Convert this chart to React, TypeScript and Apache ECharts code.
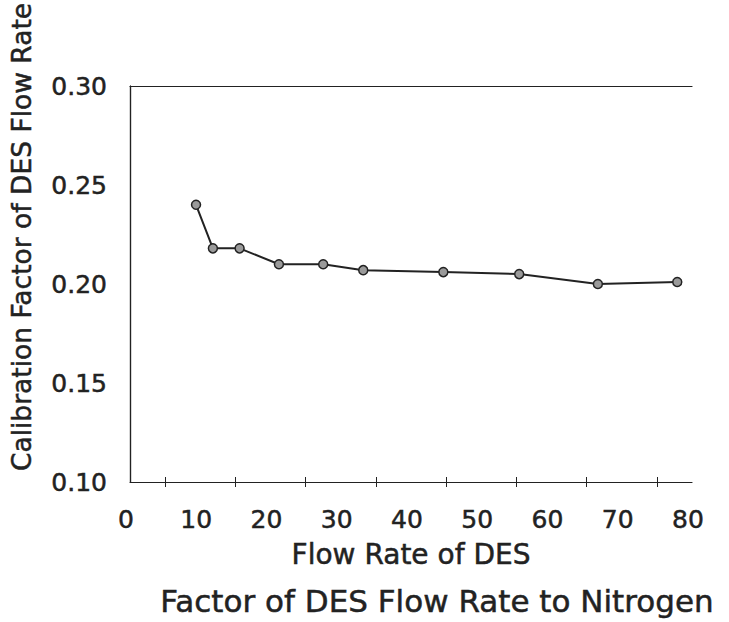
import React, { useEffect, useRef } from "react";
import * as echarts from "echarts";

// Data
const flowRates = [9.4, 11.8, 15.6, 21.2, 27.5, 33.2, 44.6, 55.4, 66.6, 77.9];
const calibrationFactors = [0.24, 0.218, 0.218, 0.21, 0.21, 0.207, 0.206, 0.205, 0.2, 0.201];
const yTitle = "Calibration Factor of DES Flow Rate";
const xTitle = "Flow Rate of DES";
const bottomCaption = "Factor of DES Flow Rate to Nitrogen";

const FONT = "DejaVu Sans";
const INK = "#222";

export default function App() {
  const ref = useRef<HTMLDivElement>(null);

  useEffect(() => {
    document.body.style.margin = "0";
    if (!ref.current) return;
    const chart = echarts.init(ref.current, undefined, { renderer: "svg" });
    const points = flowRates.map((x, i) => [x, calibrationFactors[i]]);
    const hidden = { show: false };
    const heavy = { textBorderColor: INK, textBorderWidth: 0.5 };
    const gridRect = { left: 130, top: 86, width: 562, height: 396, outerBoundsMode: "none" };
    chart.setOption({
      animation: false,
      backgroundColor: "#fff",
      grid: [gridRect, gridRect],
      xAxis: [
        {
          type: "value",
          gridIndex: 0,
          position: "bottom",
          min: 0,
          max: 80,
          interval: 10,
          axisLine: { show: true, lineStyle: { color: INK, width: 1.2 } },
          axisTick: { show: false },
          minorTick: { show: true, splitNumber: 2, length: 5, lineStyle: { color: INK, width: 1 } },
          splitLine: hidden,
          minorSplitLine: hidden,
          axisLabel: {
            fontFamily: FONT,
            fontSize: 25,
            color: INK,
            margin: 25,
            padding: [0, 8, 0, 0],
            ...heavy,
          },
          name: xTitle,
          nameLocation: "middle",
          nameGap: 58,
          nameTextStyle: { fontFamily: FONT, fontSize: 28, color: INK, ...heavy },
        },
        {
          type: "value",
          gridIndex: 0,
          position: "top",
          min: 0,
          max: 80,
          interval: 10,
          axisLine: { show: true, lineStyle: { color: INK, width: 1.2 } },
          axisTick: hidden,
          splitLine: hidden,
          axisLabel: hidden,
        },
        {
          type: "value",
          gridIndex: 1,
          position: "bottom",
          offset: -5,
          min: 0,
          max: 80,
          interval: 10,
          axisLine: hidden,
          axisTick: { show: false },
          minorTick: { show: true, splitNumber: 2, length: 5, lineStyle: { color: INK, width: 1 } },
          splitLine: hidden,
          minorSplitLine: hidden,
          axisLabel: hidden,
        },
      ],
      yAxis: [
        {
          type: "value",
          gridIndex: 0,
          position: "left",
          min: 0.1,
          max: 0.3,
          interval: 0.05,
          axisLine: { show: true, lineStyle: { color: INK, width: 1.2 } },
          axisTick: hidden,
          splitLine: hidden,
          axisLabel: {
            fontFamily: FONT,
            fontSize: 25,
            color: INK,
            margin: 23,
            padding: [0, 0, 8, 0],
            formatter: (v: number) => v.toFixed(2),
            ...heavy,
          },
        },
        {
          type: "value",
          gridIndex: 0,
          position: "right",
          min: 0.1,
          max: 0.3,
          interval: 0.05,
          axisLine: { show: true, lineStyle: { color: INK, width: 1.2 } },
          axisTick: hidden,
          splitLine: hidden,
          axisLabel: hidden,
        },
        {
          type: "value",
          gridIndex: 1,
          min: 0.1,
          max: 0.3,
          show: false,
        },
      ],
      series: [
        {
          type: "line",
          xAxisIndex: 0,
          yAxisIndex: 0,
          data: points,
          symbol: "circle",
          symbolSize: 9,
          itemStyle: { color: "#9a9a9a", borderColor: INK, borderWidth: 1.5 },
          lineStyle: { color: INK, width: 2 },
        },
      ],
      graphic: [
        {
          type: "text",
          x: 21,
          y: 237,
          rotation: Math.PI / 2,
          style: {
            text: yTitle,
            font: `26.5px "${FONT}"`,
            fill: INK,
            stroke: INK,
            lineWidth: 0.5,
            textAlign: "center",
            textVerticalAlign: "middle",
          },
        },
        {
          type: "text",
          x: 437,
          y: 601,
          style: {
            text: bottomCaption,
            font: `31px "${FONT}"`,
            fill: INK,
            stroke: INK,
            lineWidth: 0.5,
            textAlign: "center",
            textVerticalAlign: "middle",
          },
        },
      ],
    });
    return () => chart.dispose();
  }, []);

  return <div ref={ref} style={{ width: 729, height: 622 }} />;
}
